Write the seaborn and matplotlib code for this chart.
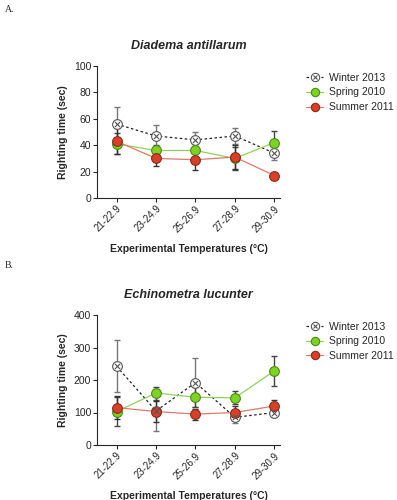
import numpy as np
import pandas as pd
import matplotlib
matplotlib.use("Agg")
import matplotlib.pyplot as plt
import seaborn as sns
from matplotlib.lines import Line2D

sns.set_style("ticks")
plt.rcParams['font.family'] = ['Liberation Sans', 'DejaVu Sans']

temps = ["21-22.9", "23-24.9", "25-26.9", "27-28.9", "29-30.9"]
seasons = ["Winter 2013", "Spring 2010", "Summer 2011"]

# Diadema antillarum (mean, error)
dia_winter = [56, 47, 44, 47, 34]
dia_winter_err = [13, 8, 6, 6, 5]
dia_spring = [41, 36, 36, 30, 42]
dia_spring_err = [8, 4, 5, 9, 9]
dia_summer = [43, 30, 29, 31, 17]
dia_summer_err = [10, 6, 8, 9, 2]

# Echinometra lucunter (mean, error)
ech_winter = [242, 105, 192, 85, 100]
ech_winter_err = [80, 63, 75, 17, 15]
ech_spring = [103, 160, 147, 145, 228]
ech_spring_err = [45, 20, 30, 20, 47]
ech_summer = [115, 103, 95, 100, 120]
ech_summer_err = [35, 32, 17, 20, 18]

styles = {
    "Winter 2013": dict(line="#222222", ls=(0, (2, 2)), face="white", edge="#555555", ecol="#777777"),
    "Spring 2010": dict(line="#8fd35a", ls="-", face="#7ed321", edge="#4a8a1a", ecol="#444444"),
    "Summer 2011": dict(line="#e07a6a", ls="-", face="#d8402a", edge="#8a2a1a", ecol="#333333"),
}


def draw(ax, means, errs, ylim, yticks, title):
    df = pd.DataFrame({
        "temp": temps * 3,
        "season": np.repeat(seasons, len(temps)),
        "time": np.concatenate(means),
    })
    for s, m, e in zip(seasons, means, errs):
        st = styles[s]
        ax.errorbar(range(len(temps)), m, yerr=e, fmt="none", ecolor=st["ecol"],
                    elinewidth=1.0, capsize=2.5, capthick=1.0, zorder=2)
    for s in seasons:
        st = styles[s]
        sub = df[df.season == s]
        sns.lineplot(data=sub, x="temp", y="time", ax=ax, color=st["line"],
                     linestyle=st["ls"], linewidth=0.9, marker="o", markersize=7,
                     markerfacecolor=st["face"], markeredgecolor=st["edge"],
                     markeredgewidth=0.8, zorder=3, legend=False)
    ax.scatter(range(len(temps)), means[0], marker="x", s=14, color="#555555",
               linewidths=0.8, zorder=4)
    ax.set_xlim(-0.5, 4.15)
    ax.set_ylim(*ylim)
    ax.set_yticks(yticks)
    ax.set_xticks(range(len(temps)))
    ax.set_xticklabels(temps, rotation=45, ha="right", rotation_mode="anchor", fontsize=7)
    ax.tick_params(axis="y", labelsize=7.5, length=3, width=0.8, pad=1)
    ax.tick_params(axis="x", length=3, width=0.8, pad=1)
    for sp in ["left", "bottom"]:
        ax.spines[sp].set_linewidth(0.8)
    sns.despine(ax=ax)
    ax.set_xlabel("Experimental Temperatures (°C)", fontsize=7.5, fontweight="bold", labelpad=7)
    ax.set_ylabel("Righting time (sec)", fontsize=7.5, fontweight="bold", labelpad=4)
    ax.set_title(title, fontsize=9, fontweight="bold", style="italic", pad=12)

    handles = []
    for s in seasons:
        st = styles[s]
        h = Line2D([], [], color=st["line"], linestyle=st["ls"], linewidth=0.9, marker="o",
                   markersize=6, markerfacecolor=st["face"], markeredgecolor=st["edge"],
                   markeredgewidth=0.8)
        if s == "Winter 2013":
            hx = Line2D([], [], linestyle="none", marker="x", markersize=3.5,
                        color="#555555", markeredgewidth=0.8)
            h = (h, hx)
        handles.append(h)
    ax.legend(handles, seasons, loc="upper left", bbox_to_anchor=(1.12, 0.98),
              frameon=False, fontsize=7.5, handlelength=1.6, handletextpad=0.6,
              labelspacing=0.45, borderaxespad=0)


fig = plt.figure(figsize=(3.97, 5.0), dpi=100)
ax1 = fig.add_axes([0.244, 0.604, 0.462, 0.264])
ax2 = fig.add_axes([0.244, 0.110, 0.462, 0.260])

draw(ax1, [dia_winter, dia_spring, dia_summer],
     [dia_winter_err, dia_spring_err, dia_summer_err],
     (0, 100), [0, 20, 40, 60, 80, 100], "Diadema antillarum")
draw(ax2, [ech_winter, ech_spring, ech_summer],
     [ech_winter_err, ech_spring_err, ech_summer_err],
     (0, 400), [0, 100, 200, 300, 400], "Echinometra lucunter")

fig.text(0.012, 0.975, "A.", fontsize=7, family=["Liberation Serif", "DejaVu Serif"])
fig.text(0.012, 0.465, "B.", fontsize=7, family=["Liberation Serif", "DejaVu Serif"])

fig.savefig("out.png", dpi=100, facecolor="white")
